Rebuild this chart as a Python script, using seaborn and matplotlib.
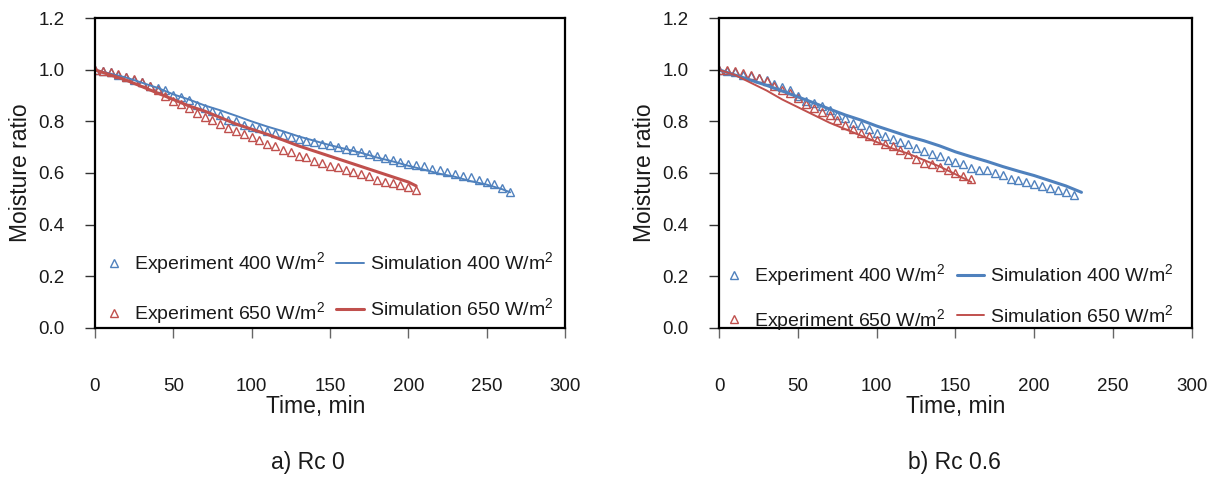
import numpy as np
import matplotlib
matplotlib.use("Agg")
import matplotlib.pyplot as plt
import seaborn as sns

# ---- data ----
# (a) Rc 0
exp400_a = [1.0, 0.995, 0.99, 0.982, 0.972, 0.962, 0.951, 0.938, 0.929, 0.92,
            0.903, 0.893, 0.884, 0.865, 0.852, 0.839, 0.826, 0.806, 0.80, 0.787,
            0.78, 0.774, 0.761, 0.755, 0.746, 0.739, 0.732, 0.723, 0.719, 0.714,
            0.707, 0.70, 0.694, 0.688, 0.681, 0.674, 0.665, 0.658, 0.649, 0.643,
            0.636, 0.631, 0.626, 0.617, 0.61, 0.603, 0.596, 0.59, 0.583, 0.574,
            0.564, 0.557, 0.541, 0.525]
exp650_a = [1.0, 0.996, 0.99, 0.985, 0.974, 0.965, 0.954, 0.938, 0.923, 0.897,
            0.88, 0.867, 0.852, 0.832, 0.819, 0.806, 0.79, 0.774, 0.761, 0.751,
            0.738, 0.729, 0.712, 0.703, 0.69, 0.68, 0.667, 0.661, 0.645, 0.639,
            0.626, 0.622, 0.613, 0.603, 0.596, 0.587, 0.574, 0.566, 0.561, 0.554,
            0.545, 0.535]
sim400_a_t = [0, 10, 20, 30, 40, 50, 60, 70, 80, 90, 100, 110, 120, 130, 140,
              150, 160, 170, 180, 190, 200, 210, 220, 230, 240, 250, 260, 265]
sim400_a = [1.0, 0.985, 0.97, 0.95, 0.93, 0.905, 0.885, 0.862, 0.843, 0.822,
            0.80, 0.78, 0.762, 0.742, 0.725, 0.708, 0.693, 0.678, 0.66, 0.645,
            0.628, 0.613, 0.597, 0.585, 0.568, 0.555, 0.537, 0.525]
sim650_a_t = [0, 10, 20, 30, 40, 50, 60, 70, 80, 90, 100, 110, 120, 130, 140,
              150, 160, 170, 180, 190, 200, 205]
sim650_a = [1.0, 0.98, 0.96, 0.935, 0.91, 0.885, 0.86, 0.84, 0.815, 0.79,
            0.77, 0.75, 0.728, 0.705, 0.685, 0.665, 0.645, 0.625, 0.605, 0.585,
            0.565, 0.55]

# (b) Rc 0.6
exp400_b = [1.0, 0.995, 0.99, 0.982, 0.975, 0.968, 0.96, 0.945, 0.932, 0.92,
            0.90, 0.881, 0.872, 0.858, 0.843, 0.826, 0.815, 0.794, 0.785, 0.772,
            0.755, 0.742, 0.733, 0.72, 0.711, 0.698, 0.684, 0.672, 0.665, 0.652,
            0.643, 0.634, 0.621, 0.613, 0.61, 0.60, 0.591, 0.578, 0.572, 0.565,
            0.556, 0.548, 0.542, 0.533, 0.526, 0.514]
exp650_b = [1.0, 1.0, 0.995, 0.988, 0.979, 0.969, 0.955, 0.939, 0.923, 0.91,
            0.892, 0.868, 0.852, 0.836, 0.823, 0.804, 0.785, 0.772, 0.755, 0.742,
            0.729, 0.714, 0.705, 0.688, 0.672, 0.655, 0.639, 0.634, 0.623, 0.61,
            0.60, 0.589, 0.578]
sim400_b_t = [0, 10, 20, 30, 40, 50, 60, 70, 80, 90, 100, 110, 120, 130, 140,
              150, 160, 170, 180, 190, 200, 210, 220, 230]
sim400_b = [1.0, 0.98, 0.96, 0.94, 0.918, 0.895, 0.872, 0.848, 0.825, 0.805,
            0.782, 0.762, 0.742, 0.725, 0.705, 0.682, 0.663, 0.645, 0.625, 0.607,
            0.59, 0.57, 0.55, 0.525]
sim650_b_t = [0, 10, 20, 30, 40, 50, 60, 70, 80, 90, 100, 110, 120, 130, 140,
              150, 160]
sim650_b = [1.0, 0.98, 0.95, 0.92, 0.885, 0.855, 0.825, 0.795, 0.77, 0.745,
            0.72, 0.695, 0.675, 0.65, 0.625, 0.595, 0.565]

step = 5  # experimental readings every 5 min

blue = "#4F81BD"
red = "#C0504D"
txt = "#1a1a1a"

sns.set_style("white")
plt.rcParams["font.family"] = ["Liberation Sans", "DejaVu Sans"]
plt.rcParams["mathtext.fontset"] = "custom"
plt.rcParams["mathtext.rm"] = "Liberation Sans"
plt.rcParams["mathtext.default"] = "regular"

fig = plt.figure(figsize=(12.21, 4.79), dpi=100)
ax1 = fig.add_axes([0.0778, 0.3159, 0.3849, 0.6459])
ax2 = fig.add_axes([0.5891, 0.3159, 0.3869, 0.6459])

panels = [
    (ax1, exp400_a, exp650_a, sim400_a_t, sim400_a, sim650_a_t, sim650_a,
     1.4, 2.2, 0.47, (0.012, 0.004), 1.25, "a) Rc 0", 0.2522),
    (ax2, exp400_b, exp650_b, sim400_b_t, sim400_b, sim650_b_t, sim650_b,
     2.2, 1.4, 0.50, (0.003, -0.016), 0.95, "b) Rc 0.6", 0.7818),
]

for (ax, e4, e6, s4t, s4, s6t, s6, lw4, lw6, xlx, lpos, lspace,
     title, tx) in panels:
    sns.lineplot(x=np.arange(len(e4)) * step, y=e4, ax=ax, color=blue,
                 marker="^", linestyle="", mfc="none", mec=blue, ms=6, mew=1,
                 label="Experiment 400 W/m$^2$")
    sns.lineplot(x=np.arange(len(e6)) * step, y=e6, ax=ax, color=red,
                 marker="^", linestyle="", mfc="none", mec=red, ms=6, mew=1,
                 label="Experiment 650 W/m$^2$")
    sns.lineplot(x=s4t, y=s4, ax=ax, color=blue, lw=lw4,
                 label="Simulation 400 W/m$^2$")
    sns.lineplot(x=s6t, y=s6, ax=ax, color=red, lw=lw6,
                 label="Simulation 650 W/m$^2$")

    ax.set_xlim(0, 300)
    ax.set_ylim(0, 1.2)
    ax.set_xticks(range(0, 301, 50))
    ax.set_yticks(np.arange(0, 1.21, 0.2))
    ax.set_yticklabels([f"{v:.1f}" for v in np.arange(0, 1.21, 0.2)])
    ax.tick_params(axis="x", direction="out", length=7, width=1,
                   color="#666666", pad=29, labelsize=13.5, labelcolor=txt)
    ax.tick_params(axis="y", direction="out", length=7, width=1,
                   color="#333333", pad=15, labelsize=13.5, labelcolor=txt)
    ax.tick_params(bottom=True, left=True)
    for sp in ax.spines.values():
        sp.set_visible(True)
        sp.set_color("black")
        sp.set_linewidth(1.6)

    ax.set_xlabel("Time, min", fontsize=16.5, color=txt)
    ax.xaxis.label.set_va("center")
    ax.xaxis.set_label_coords(xlx, -0.255)
    ax.set_ylabel("Moisture ratio", fontsize=16.5, color=txt)
    ax.yaxis.label.set_va("center")
    ax.yaxis.set_label_coords(-0.158, 0.5)

    handles, labels = ax.get_legend_handles_labels()
    ax.legend(handles, labels, ncol=2, loc="lower left", bbox_to_anchor=lpos,
              frameon=False, fontsize=14, handlelength=1.4, handletextpad=0.3,
              columnspacing=0.6, labelspacing=lspace, borderpad=0,
              borderaxespad=0, labelcolor=txt)

    fig.text(tx, 1 - 463 / 479, title, ha="center", va="center",
             fontsize=16.5, color=txt)

fig.savefig("out.png", dpi=100)
